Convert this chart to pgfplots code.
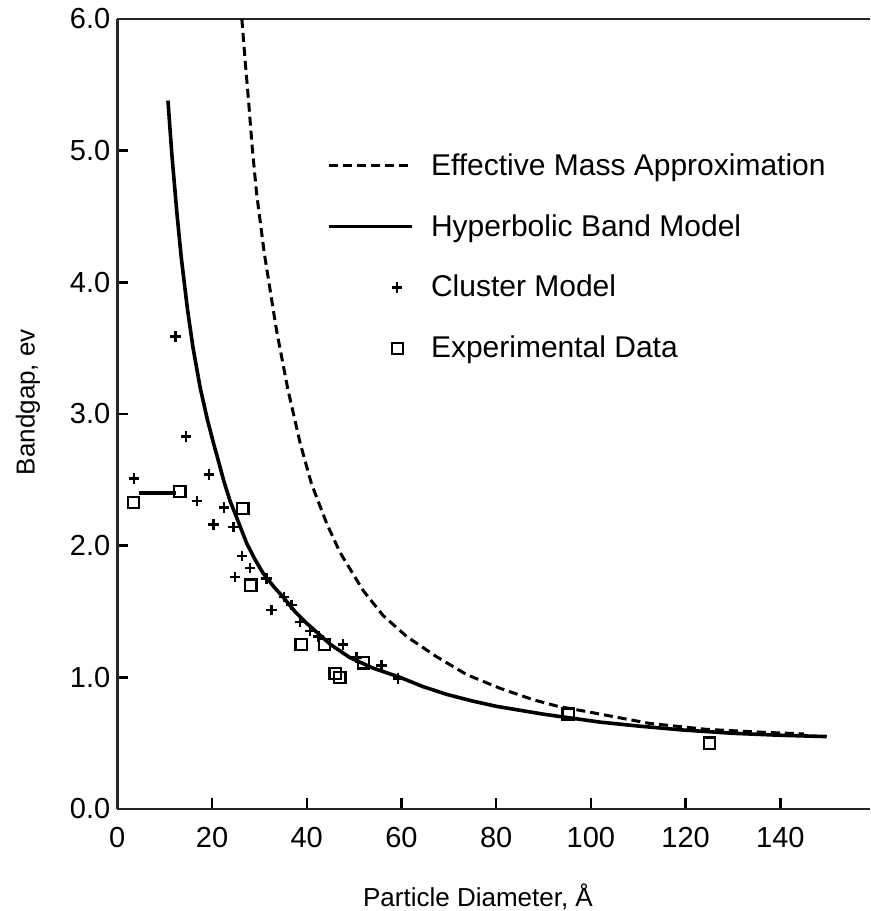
\documentclass[border=0pt]{standalone}
\usepackage{fontspec}
\setmainfont{Liberation Sans}
\usepackage{pgfplots}
\pgfplotsset{compat=1.18}
\pgfplotsset{
  linelegend/.style={legend image code/.code={\draw[##1] (0pt,0pt) -- (41.5pt,0pt);}},
  marklegend/.style={legend image code/.code={\draw[##1] plot coordinates {(34pt,0pt)};}},
}
\begin{document}
\begin{tikzpicture}
\begin{axis}[
  name=ax,
  scale only axis, width=376.5pt, height=395pt,
  xmin=0, xmax=159, ymin=0, ymax=6,
  axis x line*=box, axis y line*=left,
  xtick={0,20,...,140}, ytick={0,1,...,6},
  xtick pos=bottom,
  tick align=inside, major tick length=5.5pt,
  axis line style={line width=1.3pt, black!85},
  tick style={line width=1.2pt, black},
  /pgf/number format/assume math mode=true,
  tick label style={font=\fontsize{14.5}{17}\selectfont},
  yticklabel style={/pgf/number format/.cd, fixed, fixed zerofill, precision=1},
  xticklabel style={yshift=-5.5pt},
  xlabel={Particle Diameter, Å},
  ylabel={Bandgap, ev},
  label style={font=\fontsize{13}{16}\selectfont},
  xlabel style={at={(axis description cs:0.479,-0.124)}, anchor=base},
  ylabel style={at={(axis description cs:-0.1186,0.515)}, anchor=center},
  legend cell align=left,
  legend style={at={(axis description cs:0.2785,0.833)}, anchor=north west,
    draw=none, fill=none, inner sep=0pt, row sep=16.1pt, column sep=7.5pt,
    font=\fontsize{15}{18}\selectfont, nodes={inner sep=1pt}},
]
% Effective Mass Approximation
\addplot[black, line width=1.5pt, dash pattern=on 4.5pt off 2.5pt, linelegend]
coordinates {
(26.3,6.0)(27.0,5.68)(27.7,5.385)(28.5,5.02)(29.4,4.68)(31,4.23)(33.6,3.64)
(36,3.19)(38.6,2.78)(41,2.47)(44.2,2.17)(47,1.95)(51.9,1.66)(56.1,1.47)
(61.1,1.31)(67.4,1.157)(73.8,1.02)(80.8,0.917)(87.8,0.83)(93,0.78)(99.1,0.74)
(105,0.70)(112.4,0.65)(124.4,0.605)(135,0.585)(145,0.57)
};
\addlegendentry{Effective Mass Approximation}
% Hyperbolic Band Model
\addplot[black, line width=1.8pt, linelegend]
coordinates {
(10.7,5.38)(11.5,4.98)(12.6,4.52)(13.5,4.19)(14.8,3.80)(16,3.50)(17.5,3.20)
(19,2.96)(20.3,2.78)(21.3,2.65)(22.5,2.49)(23.8,2.34)(24.8,2.25)(26,2.14)
(27.3,2.02)(29,1.90)(30.8,1.79)(33,1.69)(35,1.61)(37.5,1.50)(40,1.41)
(42.2,1.34)(45,1.25)(49.1,1.15)(54,1.07)(59.7,1.00)(64.5,0.93)(69.6,0.87)
(75,0.82)(80,0.78)(90,0.72)(101.9,0.66)(110,0.63)(119.4,0.60)(130,0.575)
(140,0.56)(149.8,0.55)
};
\addlegendentry{Hyperbolic Band Model}
% Cluster Model
\addplot[only marks, mark=+, mark size=2.6pt, mark options={line width=1.2pt, black}, marklegend]
coordinates {
(3.5,2.51)(12.3,3.59)(14.5,2.83)(16.8,2.34)(19.4,2.54)(20.3,2.16)(22.5,2.29)
(24.5,2.14)(24.8,1.76)(26.3,1.92)(28.0,1.83)(31.5,1.75)(32.6,1.51)(35.2,1.61)
(36.8,1.55)(38.6,1.42)(40.7,1.35)(42.5,1.31)(47.7,1.25)(50.5,1.15)(55.8,1.09)
(59.3,0.99)
};
\addlegendentry{Cluster Model}
% Experimental Data
\addplot[only marks, mark=square, mark size=2.8pt, mark options={line width=1.1pt, black}, marklegend]
coordinates {
(3.4,2.33)(13.2,2.41)(26.5,2.28)(28.2,1.70)(38.8,1.25)(43.8,1.25)(46.0,1.03)
(47.0,1.00)(52.0,1.11)(95.2,0.72)(125.1,0.50)
};
\addlegendentry{Experimental Data}
% short plateau segment
\addplot[black, line width=1.6pt, forget plot] coordinates {(4.5,2.40)(12.3,2.40)};
\end{axis}
\pgfresetboundingbox
\path ([shift={(-58.65pt,-51pt)}]ax.south west) rectangle ([shift={(0pt,9.5pt)}]ax.north east);
\end{tikzpicture}
\end{document}
